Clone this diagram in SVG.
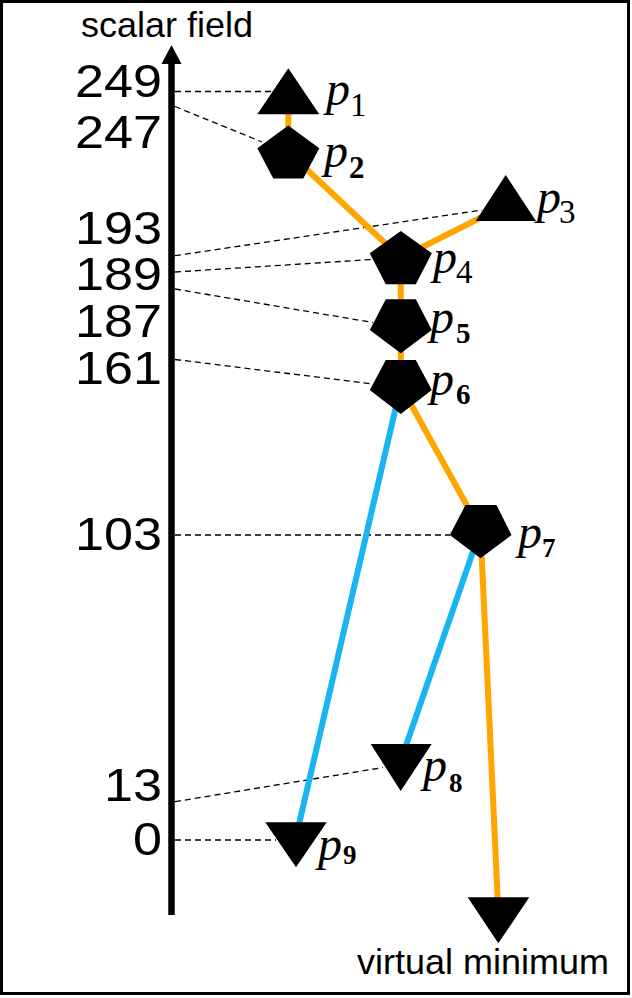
<svg xmlns="http://www.w3.org/2000/svg" width="632" height="998" viewBox="0 0 632 998">
<style>
.sans{font-family:"Liberation Sans",Arial,sans-serif;fill:#000}
.num{font-family:"Liberation Sans",Arial,sans-serif;font-size:46px;text-anchor:end;fill:#000}
.pl{font-family:"Liberation Serif","Times New Roman",serif;font-style:italic;font-size:48px;fill:#000}
.sub{font-family:"Liberation Serif","Times New Roman",serif;fill:#000}
.guide{stroke:#000;stroke-width:1.3;stroke-dasharray:6 4;fill:none}
.or{stroke:#FFA500;stroke-width:6;fill:none}
.bl{stroke:#1AB4F0;stroke-width:6;fill:none}
.node{fill:#000}
</style>
<rect x="1.5" y="1.5" width="627" height="992" fill="#fff" stroke="#000" stroke-width="3"/>

<g id="axis">
<line x1="171.5" y1="60" x2="171.5" y2="915" stroke="#000" stroke-width="6.5"/>
<polygon points="171.5,45 161.5,64 181.5,64" fill="#000"/>
<text class="sans" x="81" y="37" font-size="35" textLength="172" lengthAdjust="spacingAndGlyphs">scalar field</text>
<text class="num" x="162" y="97" textLength="87" lengthAdjust="spacingAndGlyphs">249</text>
<text class="num" x="162" y="148" textLength="87" lengthAdjust="spacingAndGlyphs">247</text>
<text class="num" x="162" y="243.5" textLength="87" lengthAdjust="spacingAndGlyphs">193</text>
<text class="num" x="162" y="290" textLength="87" lengthAdjust="spacingAndGlyphs">189</text>
<text class="num" x="162" y="337" textLength="87" lengthAdjust="spacingAndGlyphs">187</text>
<text class="num" x="162" y="383.5" textLength="87" lengthAdjust="spacingAndGlyphs">161</text>
<text class="num" x="162" y="550" textLength="87" lengthAdjust="spacingAndGlyphs">103</text>
<text class="num" x="162" y="801" textLength="58" lengthAdjust="spacingAndGlyphs">13</text>
<text class="num" x="162" y="855" textLength="29" lengthAdjust="spacingAndGlyphs">0</text>
</g>

<g id="guides">
<line class="guide" x1="175" y1="91.5" x2="271" y2="91.5"/>
<line class="guide" x1="175" y1="106.5" x2="262" y2="142"/>
<line class="guide" x1="175" y1="255.7" x2="482" y2="210"/>
<line class="guide" x1="175" y1="272" x2="372" y2="259.5"/>
<line class="guide" x1="175" y1="289" x2="373" y2="322.5"/>
<line class="guide" x1="175" y1="359.5" x2="373" y2="384"/>
<line class="guide" x1="175" y1="535" x2="450" y2="535"/>
<line class="guide" x1="175" y1="801.7" x2="383" y2="767.5"/>
<line class="guide" x1="175" y1="840" x2="276" y2="840"/>
</g>

<g id="connectors">
<line class="or" x1="288.3" y1="100" x2="288.3" y2="152"/>
<line class="or" x1="288.3" y1="152" x2="400.8" y2="258"/>
<line class="or" x1="505.7" y1="205" x2="400.8" y2="258"/>
<line class="or" x1="400.8" y1="258" x2="400.8" y2="325"/>
<line class="or" x1="400.8" y1="325" x2="400.8" y2="386"/>
<line class="or" x1="400.8" y1="386" x2="480.5" y2="530"/>
<line class="or" x1="480.5" y1="530" x2="498.3" y2="912"/>
<line class="bl" x1="400.8" y1="386" x2="296" y2="837"/>
<line class="bl" x1="480.5" y1="530" x2="401" y2="760"/>
</g>

<g id="p1">
<polygon class="node" points="288.3,68.3 319.3,114.3 257.3,114.3"/>
<text class="pl" x="326" y="105">p</text>
<text class="sub" x="350" y="116" font-size="33">1</text>
</g>
<g id="p2">
<polygon class="node" points="288.3,125.5 319.3,148.3 303.3,178.5 273.3,178.5 257.3,148.3"/>
<text class="pl" x="324" y="167">p</text>
<text class="sub" x="349" y="178" font-size="31" font-weight="bold">2</text>
</g>
<g id="p3">
<polygon class="node" points="505.7,175 536,221 475.7,221"/>
<text class="pl" x="537" y="213">p</text>
<text class="sub" x="559" y="222.5" font-size="33">3</text>
</g>
<g id="p4">
<polygon class="node" points="400.8,231 431.8,253.3 415.8,284.3 385.8,284.3 369.8,253.3"/>
<text class="pl" x="433" y="273">p</text>
<text class="sub" x="456" y="283" font-size="33">4</text>
</g>
<g id="p5">
<polygon class="node" points="385.8,299.3 415.8,299.3 431.8,330 400.8,353.3 369.8,330"/>
<text class="pl" x="430" y="333">p</text>
<text class="sub" x="456" y="343" font-size="29" font-weight="bold">5</text>
</g>
<g id="p6">
<polygon class="node" points="385.8,360 415.8,360 431.8,390 400.8,414 369.8,390"/>
<text class="pl" x="430" y="395">p</text>
<text class="sub" x="456" y="404" font-size="29" font-weight="bold">6</text>
</g>
<g id="p7">
<polygon class="node" points="465.5,505 496.5,505 511.5,535 480.5,558.3 449.8,535"/>
<text class="pl" x="518" y="548">p</text>
<text class="sub" x="542" y="557" font-size="27" font-weight="bold">7</text>
</g>
<g id="p8">
<polygon class="node" points="370.7,744 431.7,744 400.7,791"/>
<text class="pl" x="423" y="781">p</text>
<text class="sub" x="449" y="792" font-size="27" font-weight="bold">8</text>
</g>
<g id="p9">
<polygon class="node" points="265.3,822.3 326.7,822.3 296,867.3"/>
<text class="pl" x="318" y="860">p</text>
<text class="sub" x="343" y="864" font-size="27" font-weight="bold">9</text>
</g>
<g id="vmin">
<polygon class="node" points="467.7,897.3 529.3,897.3 498.3,943.3"/>
<text class="sans" x="357" y="974" font-size="35" textLength="252" lengthAdjust="spacingAndGlyphs">virtual minimum</text>
</g>
</svg>
